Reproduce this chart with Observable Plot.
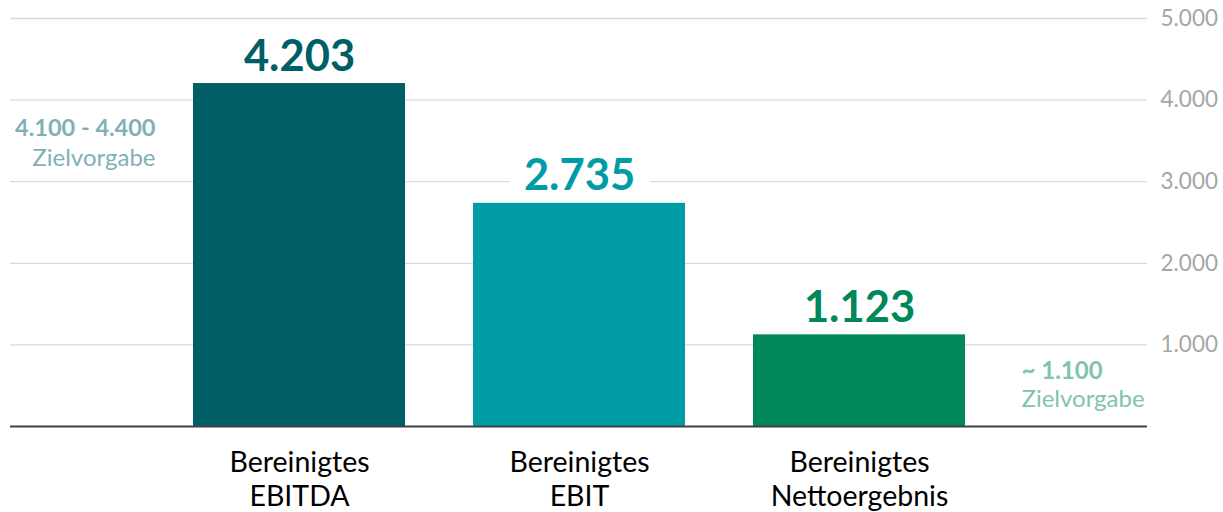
<!DOCTYPE html>
<html>
<head>
<meta charset="utf-8">
<script src="https://cdn.jsdelivr.net/npm/d3@7"></script>
<script src="https://cdn.jsdelivr.net/npm/@observablehq/plot@0.6"></script>
<style>
  html, body { margin: 0; padding: 0; background: #fff; }
  #chart { width: 1223px; height: 512px; overflow: hidden; }
</style>
</head>
<body>
<div id="chart"></div>
<script>
// ---- data ----
const categories = ["Bereinigtes\nEBITDA", "Bereinigtes\nEBIT", "Bereinigtes\nNettoergebnis"];
const values = [4203, 2735, 1123];
const barColors = ["#005f66", "#009ca6", "#00875a"];
const yTicks = [1000, 2000, 3000, 4000, 5000];
const leftTarget = ["4.100 - 4.400", "Zielvorgabe"];
const rightTarget = ["~ 1.100", "Zielvorgabe"];

const de = d3.formatLocale({decimal: ",", thousands: ".", grouping: [3], currency: ["", " €"]});
const fmt = de.format(",d");

const data = categories.map((c, i) => ({cat: c, value: values[i]}));

const chart = Plot.plot({
  width: 1223,
  height: 512,
  marginLeft: 10,
  marginRight: 76,
  marginTop: 18,
  marginBottom: 86,
  style: {fontFamily: "Lato, 'Open Sans', sans-serif", background: "white"},
  x: {domain: categories, paddingInner: 0.243, paddingOuter: 0.65, axis: null},
  y: {domain: [0, 5000], axis: null},
  color: {domain: categories, range: barColors},
  marks: [
    Plot.gridY(yTicks, {stroke: "#d9d9d9", strokeOpacity: 1, strokeWidth: 1.3}),
    Plot.axisY({anchor: "right", ticks: yTicks, tickSize: 0, tickPadding: 13, tickFormat: fmt,
      fontSize: 22.5, color: "#a6a6a6", label: null}),
    // white halo behind value labels (interrupts gridlines)
    Plot.text(data, {x: "cat", y: "value", text: d => fmt(d.value), lineAnchor: "bottom", dy: -13,
      fontSize: 43.5, fontWeight: "bold", fill: "white", stroke: "white", strokeWidth: 34}),
    Plot.barY(data, {x: "cat", y: "value", fill: "cat"}),
    Plot.ruleY([0], {stroke: "#404040", strokeWidth: 2}),
    Plot.text(data, {x: "cat", y: "value", text: d => fmt(d.value), lineAnchor: "bottom", dy: -13,
      fontSize: 43.5, fontWeight: "bold", fill: "cat"}),
    Plot.axisX({anchor: "bottom", tickSize: 0, tickPadding: 21, fontSize: 28.5, lineHeight: 1.2,
      color: "black", label: null}),
    // left target annotation
    Plot.text([leftTarget[0]], {frameAnchor: "top-left", dx: 145, dy: 110, textAnchor: "end",
      lineAnchor: "middle", fontSize: 23.5, fontWeight: "bold", fill: "#7fb1b4"}),
    Plot.text([leftTarget[1]], {frameAnchor: "top-left", dx: 145, dy: 140, textAnchor: "end",
      lineAnchor: "middle", fontSize: 24, fill: "#7fb1b4"}),
    // right target annotation
    Plot.text([rightTarget[0]], {frameAnchor: "bottom-right", dx: -126, dy: -55, textAnchor: "start",
      lineAnchor: "middle", fontSize: 24, fontWeight: "bold", fill: "#80c4aa"}),
    Plot.text([rightTarget[1]], {frameAnchor: "bottom-right", dx: -126, dy: -27, textAnchor: "start",
      lineAnchor: "middle", fontSize: 24, fill: "#80c4aa"})
  ]
});
document.getElementById("chart").appendChild(chart);
</script>
</body>
</html>
